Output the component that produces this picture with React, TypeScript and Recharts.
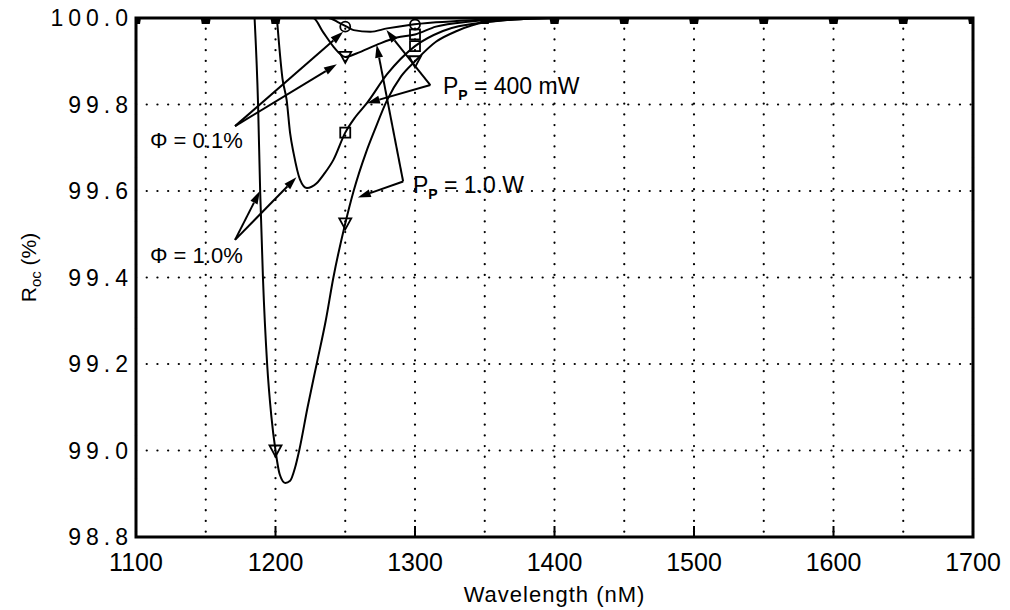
import React from "react";
import {
  ComposedChart,
  Line,
  Scatter,
  XAxis,
  YAxis,
  CartesianGrid,
  ReferenceLine,
  ReferenceDot,
  ReferenceArea,
} from "recharts";

const FONT = "'Liberation Sans', Arial, sans-serif";

// axis ticks
const xTicks = [1100, 1150, 1200, 1250, 1300, 1350, 1400, 1450, 1500, 1550, 1600, 1650, 1700];
const yTicks = [98.8, 99.0, 99.2, 99.4, 99.6, 99.8, 100.0];

// [wavelength nm, R_oc %]
// Pp = 1.0 W, phi = 1.0%
const pump1WPhi1: [number, number][] = [
  [1185, 100], [1187.5, 99.8], [1189, 99.6], [1191, 99.4], [1194, 99.2], [1197, 99.08],
  [1200, 99.0], [1203, 98.945], [1207, 98.925], [1210.5, 98.93], [1214, 98.96], [1217, 99.0],
  [1223, 99.1], [1229.5, 99.2], [1236, 99.3], [1241.5, 99.4], [1250, 99.525], [1256, 99.6],
  [1265, 99.69], [1271, 99.74], [1280, 99.81], [1290, 99.865], [1300, 99.9], [1315, 99.945],
  [1330, 99.97], [1350, 99.99], [1380, 99.998], [1400, 100], [1700, 100],
];
// Pp = 400 mW, phi = 1.0%
const pump400Phi1: [number, number][] = [
  [1201, 100], [1205, 99.86], [1208, 99.81], [1210.5, 99.733], [1213, 99.687], [1217.5, 99.627],
  [1222.5, 99.607], [1229.5, 99.618], [1235, 99.64], [1241.5, 99.672], [1250, 99.735],
  [1257, 99.77], [1265.5, 99.803], [1280, 99.87], [1300, 99.935], [1320, 99.97], [1350, 99.99],
  [1400, 100], [1700, 100],
];
// Pp = 1.0 W, phi = 0.1%
const pump1WPhi01: [number, number][] = [
  [1100, 100], [1227, 100], [1234, 99.968], [1241.5, 99.934], [1246, 99.918], [1250, 99.91],
  [1258, 99.918], [1272.5, 99.938], [1287, 99.955], [1300, 99.962], [1315, 99.98], [1340, 99.992],
  [1370, 99.998], [1400, 100], [1700, 100],
];
// Pp = 400 mW, phi = 0.1%
const pump400Phi01: [number, number][] = [
  [1100, 100], [1238, 100], [1245, 99.99], [1251, 99.98], [1256, 99.972], [1268, 99.968],
  [1280, 99.976], [1296, 99.984], [1315, 99.99], [1340, 99.995], [1400, 100], [1700, 100],
];

// markers
const triangleMarks: [number, number][] = [[1200, 99.0], [1250, 99.525], [1300, 99.9], [1250, 99.91]];
const squareMarks: [number, number][] = [[1250, 99.735], [1300, 99.935], [1300, 99.962]];
const circleMarks: [number, number][] = [[1250, 99.98], [1300, 99.985]];
// stacked markers sitting on 100 %
const capMarks: [number, number][] = [
  [1100, 100], [1150, 100], [1200, 100], [1350, 100], [1400, 100], [1450, 100],
  [1500, 100], [1550, 100], [1600, 100], [1650, 100], [1700, 100],
];

// annotation arrows: [fromX, fromY, toX, toY]
const arrows: [number, number, number, number][] = [
  [1171, 99.75, 1244, 99.893],
  [1171, 99.75, 1248.5, 99.968],
  [1171, 99.487, 1188.8, 99.6],
  [1171, 99.487, 1215, 99.632],
  [1311, 99.845, 1265.5, 99.803],
  [1311, 99.845, 1279.5, 99.972],
  [1291.5, 99.622, 1259, 99.585],
  [1291.5, 99.622, 1272.5, 99.938],
];

// annotation labels: [x, y, main, subscript, rest]
const labels: [number, number, string, string, string][] = [
  [1110, 99.718, "\u03A6 = 0.1%", "", ""],
  [1110, 99.452, "\u03A6 = 1.0%", "", ""],
  [1320, 99.843, "P", "P", " = 400 mW"],
  [1298.5, 99.614, "P", "P", " = 1.0 W"],
];

const toPts = (arr: [number, number][]) => arr.map(([x, y]) => ({ x, y }));

function XTick(props: any) {
  const { x, y, payload } = props;
  const major = payload.value % 100 === 0;
  if (!major) return <g />;
  return (
    <g>
      <line x1={x} y1={y} x2={x} y2={y - 11} stroke="#000" strokeWidth={2} />
      <text x={x} y={y + 34} textAnchor="middle" fontFamily={FONT} fontSize={25} fill="#000">
        {payload.value}
      </text>
    </g>
  );
}

function YTick(props: any) {
  const { x, y, payload } = props;
  return (
    <text x={x - 3} y={y} dy="0.36em" textAnchor="end" fontFamily={FONT} fontSize={23}
      letterSpacing={5} fill="#000">
      {Number(payload.value).toFixed(1)}
    </text>
  );
}

const Triangle = (p: any) => (
  <path d={`M${p.cx - 6},${p.cy - 5} L${p.cx + 6},${p.cy - 5} L${p.cx},${p.cy + 6} Z`}
    fill="none" stroke="#000" strokeWidth={1.8} />
);
const Square = (p: any) => (
  <rect x={p.cx - 5} y={p.cy - 5} width={10} height={10} fill="none" stroke="#000" strokeWidth={1.8} />
);
const Circle = (p: any) => (
  <circle cx={p.cx} cy={p.cy} r={5} fill="none" stroke="#000" strokeWidth={1.8} />
);
const Cap = (p: any) => (
  <path d={`M${p.cx - 5},${p.cy} L${p.cx + 5},${p.cy} L${p.cx + 4},${p.cy + 6} L${p.cx - 4},${p.cy + 6} Z`}
    fill="#000" />
);

function Arrow(p: any) {
  const { x1, y1, x2, y2 } = p;
  const a = Math.atan2(y2 - y1, x2 - x1);
  const len = 13;
  const w = 4;
  const bx = x2 - len * Math.cos(a);
  const by = y2 - len * Math.sin(a);
  const nx = -Math.sin(a) * w;
  const ny = Math.cos(a) * w;
  return (
    <g>
      <line x1={x1} y1={y1} x2={bx} y2={by} stroke="#000" strokeWidth={2} />
      <path d={`M${x2},${y2} L${bx + nx},${by + ny} L${bx - nx},${by - ny} Z`} fill="#000" />
    </g>
  );
}

function YLabel(props: any) {
  const { viewBox } = props;
  const cx = 28;
  const cy = viewBox.y + viewBox.height / 2 - 10;
  return (
    <text x={cx} y={cy} transform={`rotate(-90 ${cx} ${cy})`} textAnchor="middle" dy="0.36em"
      fontFamily={FONT} fontSize={21} fill="#000">
      R<tspan fontSize={15} dy={5}>oc</tspan>
      <tspan dy={-5}> (%)</tspan>
    </text>
  );
}

function XLabel(props: any) {
  const { viewBox } = props;
  return (
    <text x={viewBox.x + viewBox.width / 2} y={602} textAnchor="middle" fontFamily={FONT}
      fontSize={22} letterSpacing={1} fill="#000">
      Wavelength (nM)
    </text>
  );
}

export default function App() {
  const curves = [pump1WPhi1, pump400Phi1, pump1WPhi01, pump400Phi01];
  return (
    <div style={{ position: "absolute", left: 0, top: 0, width: 1010, height: 610, background: "#fff" }}>
      <ComposedChart width={1010} height={610} margin={{ top: 18, right: 37, bottom: 0, left: 0 }}>
        <CartesianGrid stroke="#000" strokeWidth={2.2} strokeLinecap="round" strokeDasharray="0.1 10.6" />
        <XAxis
          type="number"
          dataKey="x"
          domain={[1100, 1700]}
          ticks={xTicks}
          interval={0}
          allowDataOverflow
          axisLine={false}
          tickLine={false}
          tickSize={0}
          tickMargin={0}
          height={73}
          tick={<XTick />}
          label={<XLabel />}
        />
        <YAxis
          type="number"
          dataKey="y"
          domain={[98.8, 100]}
          ticks={yTicks}
          interval={0}
          allowDataOverflow
          axisLine={false}
          tickLine={false}
          tickSize={0}
          tickMargin={0}
          width={136}
          tick={<YTick />}
          label={<YLabel />}
        />
        {curves.map((c, i) => (
          <Line
            key={i}
            data={toPts(c)}
            dataKey="y"
            type="monotone"
            stroke="#000"
            strokeWidth={2}
            dot={false}
            activeDot={false}
            isAnimationActive={false}
          />
        ))}
        <Scatter data={toPts(triangleMarks)} dataKey="y" shape={<Triangle />} isAnimationActive={false} />
        <Scatter data={toPts(squareMarks)} dataKey="y" shape={<Square />} isAnimationActive={false} />
        <Scatter data={toPts(circleMarks)} dataKey="y" shape={<Circle />} isAnimationActive={false} />
        <Scatter data={toPts(capMarks)} dataKey="y" shape={<Cap />} isAnimationActive={false} />
        {arrows.map(([fx, fy, tx, ty], i) => (
          <ReferenceLine
            key={`a${i}`}
            segment={[{ x: fx, y: fy }, { x: tx, y: ty }]}
            shape={(p: any) => <Arrow {...p} />}
          />
        ))}
        {labels.map(([lx, ly, main, sub, rest], i) => (
          <ReferenceDot
            key={`l${i}`}
            x={lx}
            y={ly}
            r={0}
            shape={(p: any) => (
              <text x={p.cx} y={p.cy} dy="0.36em" fontFamily={FONT} fontSize={sub ? 23 : 22} fill="#000">
                {main}
                {sub && <tspan fontSize={14} fontWeight="bold" dy={6}>{sub}</tspan>}
                {sub && <tspan dy={-6}>{rest}</tspan>}
              </text>
            )}
          />
        ))}
        <ReferenceArea x1={1100} x2={1700} y1={98.8} y2={100} fill="none" fillOpacity={0}
          stroke="#000" strokeWidth={3} ifOverflow="visible" />
      </ComposedChart>
    </div>
  );
}
